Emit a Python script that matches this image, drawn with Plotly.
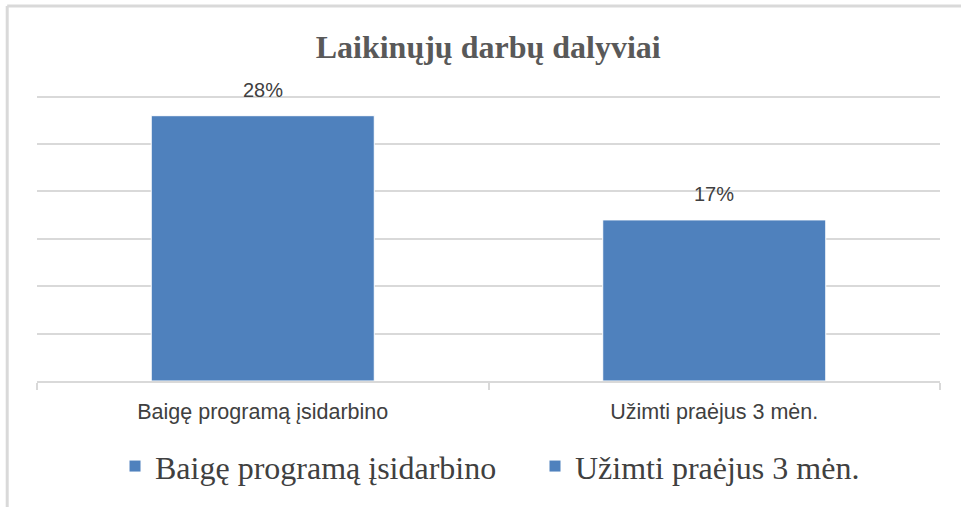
import plotly.graph_objects as go

title_text = "Laikinųjų darbų dalyviai"
categories = ["Baigę programą įsidarbino", "Užimti praėjus 3 mėn."]
values = [28, 17]
value_labels = ["28%", "17%"]
bar_color = "#4f81bd"
grid_color = "#d9d9d9"

legend_refs = ["legend", "legend2"]

fig = go.Figure()
for cat, val, lg in zip(categories, values, legend_refs):
    fig.add_trace(go.Bar(
        x=[cat], y=[val], name=cat, legend=lg,
        marker=dict(color=bar_color, line=dict(color="white", width=1)),
        hoverinfo="skip",
    ))

for cat, val, lab in zip(categories, values, value_labels):
    fig.add_annotation(
        x=cat, y=val, text=lab, showarrow=False,
        yanchor="bottom", yshift=13,
        font=dict(family="Liberation Sans, Arial, sans-serif", size=20, color="#404040"),
    )

# outer frame (top and left lines)
fig.add_shape(type="line", xref="paper", yref="paper",
              x0=-0.033, x1=1.05, y0=1.2975, y1=1.2975,
              line=dict(color="#d9d9d9", width=3))
fig.add_shape(type="line", xref="paper", yref="paper",
              x0=-0.033, x1=-0.033, y0=1.2975, y1=-0.45,
              line=dict(color="#d9d9d9", width=3))

legend_font = dict(family="Liberation Serif, Times New Roman, serif", size=32, color="#404040")

fig.update_layout(
    width=961, height=507,
    margin=dict(l=37, r=21, t=92, b=126, autoexpand=False),
    paper_bgcolor="white", plot_bgcolor="white",
    barmode="overlay", bargap=0.506,
    title=dict(text=f"<b>{title_text}</b>", x=0.508, xanchor="center",
               y=1 - 47 / 507, yanchor="middle", yref="container",
               font=dict(family="Liberation Serif, Times New Roman, serif", size=32, color="#595959")),
    showlegend=True,
    legend=dict(orientation="h", x=0.0864, xanchor="left", y=-0.295, yanchor="middle",
                font=legend_font, itemwidth=30),
    legend2=dict(orientation="h", x=0.5515, xanchor="left", y=-0.295, yanchor="middle",
                 font=legend_font, itemwidth=30),
    xaxis=dict(showgrid=False, showline=True, linecolor=grid_color, linewidth=2,
               ticks="outside", tickson="boundaries", ticklen=7, tickcolor=grid_color, tickwidth=2,
               ticklabelstandoff=10,
               tickfont=dict(family="Liberation Sans, Arial, sans-serif",
                             size=21.5, color="#404040")),
    yaxis=dict(range=[0, 30.5], tickvals=[5, 10, 15, 20, 25, 30], showgrid=True,
               gridcolor=grid_color, gridwidth=2,
               showticklabels=False, zeroline=False, showline=False),
)

fig.write_html("out.html", config={"displayModeBar": False},
               post_script="document.body.style.margin='0';")
